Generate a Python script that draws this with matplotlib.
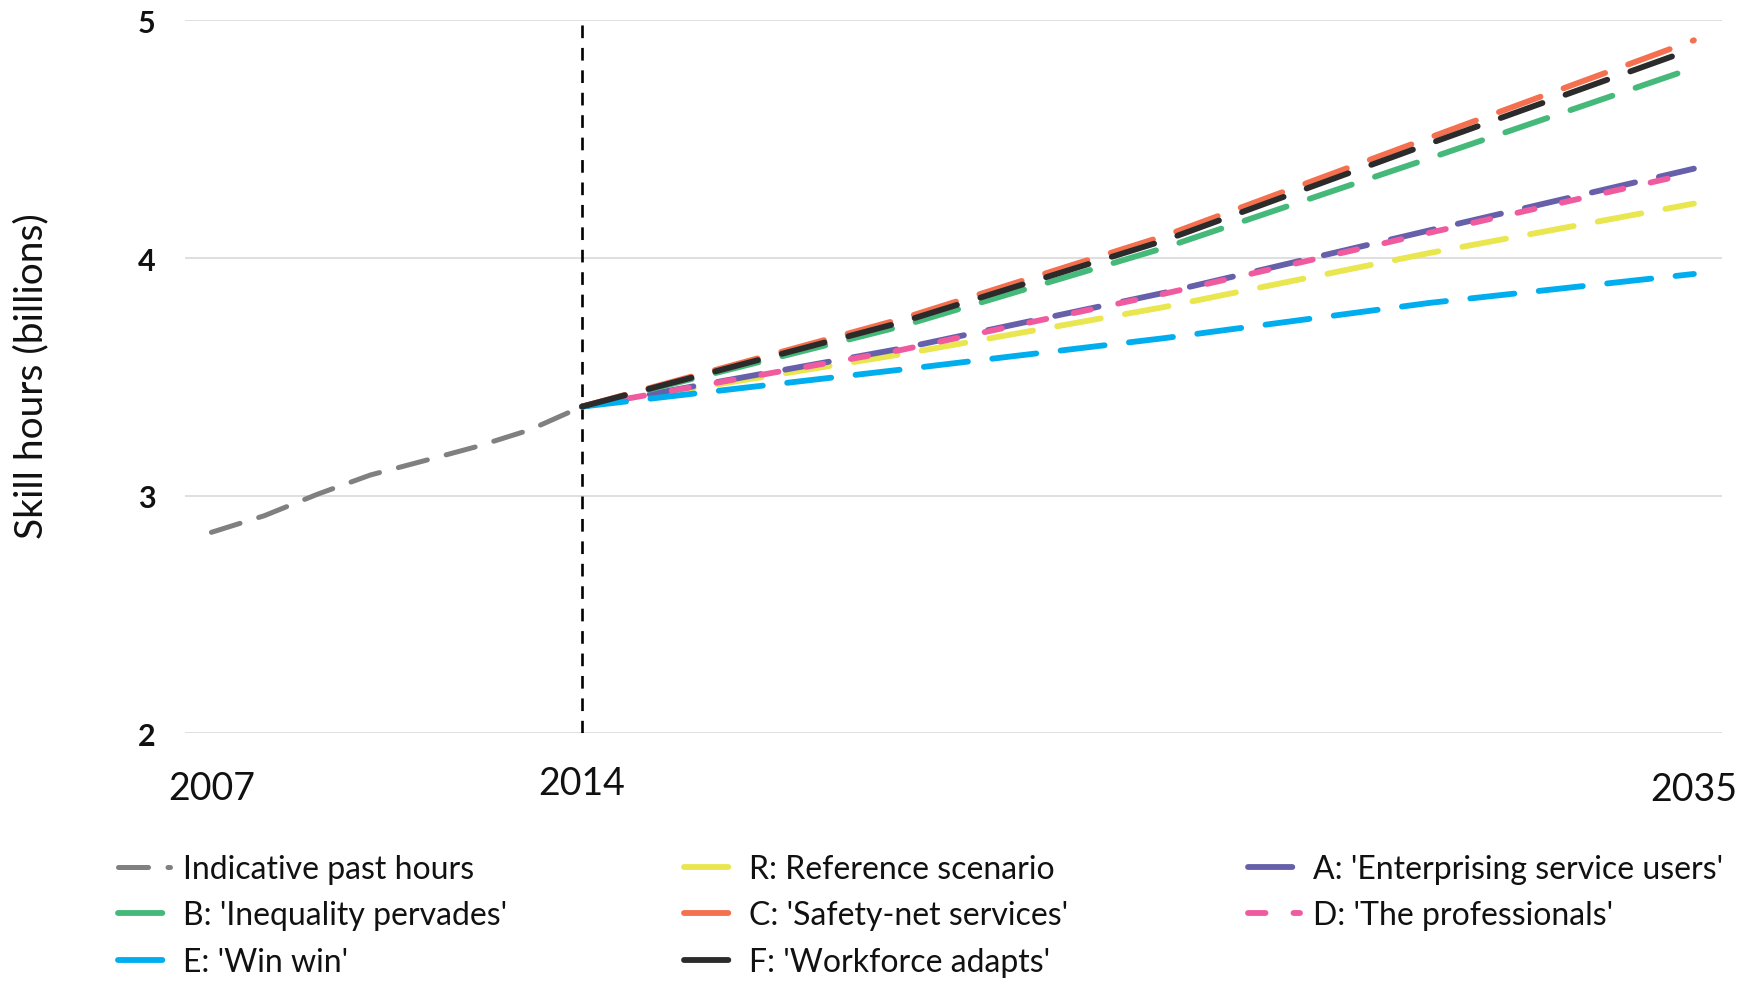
import matplotlib
matplotlib.use("Agg")
import matplotlib.pyplot as plt
import matplotlib.transforms as mtransforms

plt.rcParams['font.family'] = ['Lato', 'DejaVu Sans']

# ---- data -------------------------------------------------------------
past_years = [2007, 2008, 2009, 2010, 2011, 2012, 2013, 2014]
past_hours = [2.846, 2.916, 3.006, 3.087, 3.146, 3.206, 3.276, 3.375]

future_years = [2014, 2020, 2025, 2030, 2035]
ref_R = [3.375, 3.594, 3.794, 4.021, 4.229]
scen_A = [3.375, 3.618, 3.854, 4.116, 4.376]
scen_B = [3.375, 3.711, 4.043, 4.419, 4.800]
scen_C = [3.375, 3.742, 4.093, 4.506, 4.916]
scen_D = [3.375, 3.612, 3.850, 4.106, 4.359]
scen_E = [3.375, 3.530, 3.663, 3.811, 3.933]
scen_F = [3.375, 3.728, 4.074, 4.481, 4.881]

labels = ["Indicative past hours", "R: Reference scenario",
          "A: 'Enterprising service users'", "B: 'Inequality pervades'",
          "C: 'Safety-net services'", "D: 'The professionals'",
          "E: 'Win win'", "F: 'Workforce adapts'"]

year_ticks = [2007, 2014, 2035]
y_ticks = [2, 3, 4, 5]
split_year = 2014

# ---- figure -----------------------------------------------------------
fig = plt.figure(figsize=(17.58, 9.87), dpi=100)
ax = fig.add_axes([0.1052, 0.2559, 0.8743, 0.7225])

ax.set_xlim(2006.5, 2035.53)
ax.set_ylim(2, 5)

for s in ax.spines.values():
    s.set_visible(False)

ax.set_yticks(y_ticks)
ax.set_yticklabels([str(v) for v in y_ticks], fontsize=22, fontweight='bold',
                   color='#111111')
ax.tick_params(axis='y', length=0, pad=21)
ax.set_xticks([])
ax.grid(axis='y', color='#d9d9d9', linewidth=1.2)
ax.set_axisbelow(True)

# year labels under the axis
trans = mtransforms.blended_transform_factory(ax.transData, ax.transAxes)
year_y = {2007: -0.0766, 2014: -0.0696, 2035: -0.0777}
for yr in year_ticks:
    ax.text(yr, year_y[yr], str(yr), transform=trans, ha='center', va='center',
            fontsize=27, color='#111111')

ax.set_ylabel("Skill hours (billions)", fontsize=28, color='#111111')
ax.yaxis.set_label_coords(-0.0999, 0.5027)
ax.yaxis.label.set_verticalalignment('center')

# boundary between observed and projected hours
ax.axvline(split_year, color='black', linewidth=1.9, linestyle=(0, (4.8, 3.7)),
           zorder=1)

lw = 4.2
long_dash = (0, (7.6, 4.2))
short_dash = (0, (3.0, 4.8))


def dashed(x, y, color, style, width=lw):
    line, = ax.plot(x, y, color=color, linewidth=width, linestyle=style,
                    dash_capstyle='round', zorder=3)
    return line


h_past = dashed(past_years, past_hours, '#808080', (0, (6.0, 3.9)), 3.6)
h_R = dashed(future_years, ref_R, '#e9e64f', long_dash)
h_A = dashed(future_years, scen_A, '#6660ab', long_dash)
h_B = dashed(future_years, scen_B, '#44b97a', long_dash)
h_C = dashed(future_years, scen_C, '#f4704f', long_dash)
h_D = dashed(future_years, scen_D, '#f05a9e', short_dash)
h_E = dashed(future_years, scen_E, '#00aeef', long_dash)
h_F = dashed(future_years, scen_F, '#2b2b2b', long_dash)

handles = [h_past, h_R, h_A, h_B, h_C, h_D, h_E, h_F]

# legend laid out in three columns, read row by row
col_x = [118 / 1758, 684 / 1758, 1248 / 1758]
for c in range(3):
    idx = list(range(c, len(handles), 3))
    fig.legend([handles[i] for i in idx], [labels[i] for i in idx],
               loc='upper left', bbox_to_anchor=(col_x[c], 0.1336),
               bbox_transform=fig.transFigure, frameon=False, fontsize=23,
               handlelength=1.63, handletextpad=0.41, labelspacing=0.51,
               borderpad=0, borderaxespad=0, labelcolor='#111111')

fig.savefig("out.png", dpi=100)
